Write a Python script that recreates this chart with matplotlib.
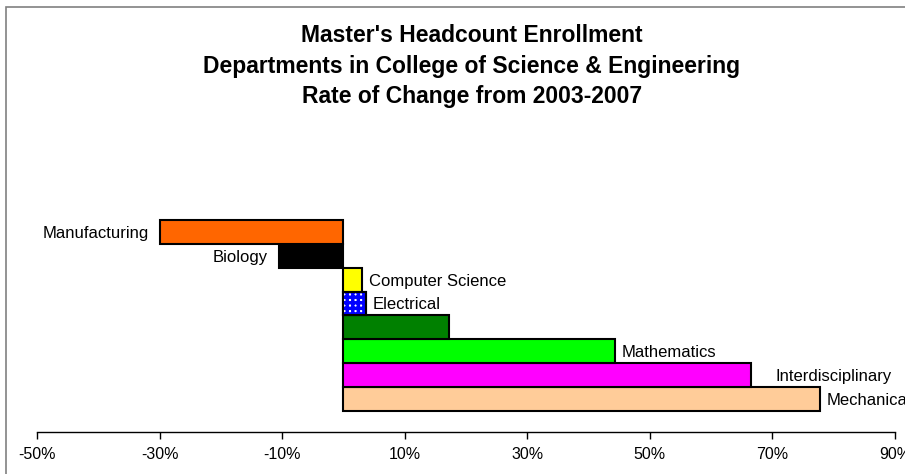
from matplotlib import pyplot as plt
from matplotlib.patches import Rectangle
import numpy as np

plt.rcParams['font.family'] = ['Liberation Sans', 'DejaVu Sans']
plt.rcParams['hatch.linewidth'] = 2.5

# bottom to top
departments = ["Mechanical", "Interdisciplinary", "Mathematics", "",
               "Electrical", "Computer Science", "Biology", "Manufacturing"]
change = [77.7, 66.5, 44.3, 17.2, 3.7, 3.0, -10.5, -29.9]
colors = ["#FFCC99", "#FF00FF", "#00FF00", "#008000",
          "white", "#FFFF00", "#000000", "#FF6600"]
xticks = [-50, -30, -10, 10, 30, 50, 70, 90]

W, H = 905, 474
fig = plt.figure(figsize=(W / 100, H / 100), dpi=100)

# chart frame (runs off the right and bottom edges)
fig.patches.append(Rectangle((6 / W, -0.1), 1.2, 1.1 - 7 / H, transform=fig.transFigure,
                             fill=False, edgecolor="#808080", linewidth=1.2))

ax = fig.add_axes([37 / W, (H - 432) / H, 858 / W, (432 - 150) / H])
ypos = np.arange(len(change))
ax.barh(ypos, change, height=1.0, color=colors, edgecolor="black", linewidth=1.5, zorder=2)

# checkered fill for Electrical
i_el = departments.index("Electrical")
ax.barh(ypos[i_el], change[i_el], height=1.0, color="white", edgecolor="#0000FF",
        hatch="+++", linewidth=0, zorder=2)
ax.barh(ypos[i_el], change[i_el], height=1.0, fill=False, edgecolor="black",
        linewidth=1.5, zorder=3)

for y, v, name in zip(ypos, change, departments):
    if not name:
        continue
    if v < 0:
        ax.annotate(name, (v, y), xytext=(-8, -1), textcoords="offset points",
                    ha="right", va="center", fontsize=12)
    else:
        dx = 18 if name == "Interdisciplinary" else 5
        ax.annotate(name, (v, y), xytext=(dx, -1), textcoords="offset points",
                    ha="left", va="center", fontsize=12, annotation_clip=False)

ax.set_xlim(-50, 90)
ax.set_ylim(-1.38, 10.43)
ax.set_xticks(xticks)
ax.set_xticklabels([f"{t}%" for t in xticks], fontsize=11.5)
ax.tick_params(axis="x", direction="out", length=5, width=1, pad=6)
ax.set_yticks([])
for s in ["top", "right", "left"]:
    ax.spines[s].set_visible(False)
ax.spines["bottom"].set_linewidth(1)

title = ["Master's Headcount Enrollment",
         "Departments in College of Science & Engineering",
         "Rate of Change from 2003-2007"]
for k, line in enumerate(title):
    fig.text(472 / W, 1 - (35 + 31 * k) / H, line, ha="center", va="center",
             fontsize=16.5, fontweight="bold")

fig.savefig("out.png", dpi=100)
